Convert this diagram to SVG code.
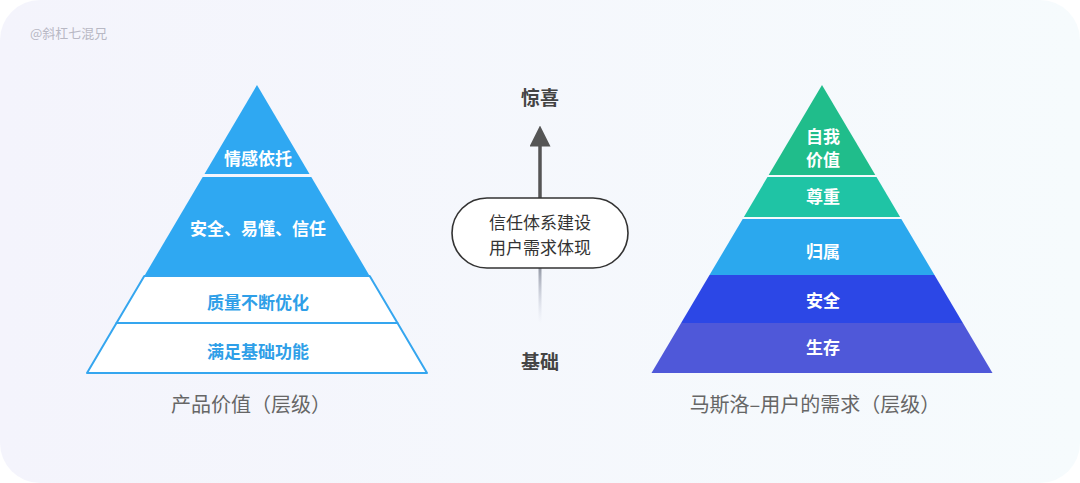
<svg xmlns="http://www.w3.org/2000/svg" width="1080" height="483" viewBox="0 0 1080 483">
  <defs>
    <linearGradient id="bg" x1="0" y1="0" x2="1" y2="0">
      <stop offset="0" stop-color="#f4f4fc"/>
      <stop offset="1" stop-color="#f6fbfd"/>
    </linearGradient>
    <linearGradient id="fade" x1="0" y1="0" x2="0" y2="1">
      <stop offset="0" stop-color="#8a8f9c" stop-opacity="0.9"/>
      <stop offset="1" stop-color="#c8cde0" stop-opacity="0"/>
    </linearGradient>
    <marker id="arrow" markerWidth="6" markerHeight="6" refX="3" refY="3" orient="auto" markerUnits="strokeWidth">
      <path d="M0,0 L6,3 L0,6 z" fill="#555555"/>
    </marker>
    <style>
      text { font-family: "Noto Sans CJK SC", "Noto Sans", sans-serif; }
      .lvl { font-size: 17px; font-weight: bold; fill: #ffffff; text-anchor: middle; }
      .lvlb { font-size: 17px; font-weight: bold; fill: #2f9fe8; text-anchor: middle; }
      .cap { font-size: 20px; fill: #666666; text-anchor: middle; }
      .ctr { font-size: 17px; fill: #333333; text-anchor: middle; }
      .end { font-size: 19px; font-weight: bold; fill: #444444; text-anchor: middle; }
      .wband { fill: #ffffff; stroke: #35a6ef; stroke-width: 2; stroke-linejoin: round; }
    </style>
  </defs>

  <rect x="0" y="0" width="1080" height="483" fill="#ffffff"/>
  <rect x="0" y="0" width="1080" height="483" rx="40" ry="40" fill="url(#bg)"/>

  <text x="30" y="38" font-size="13" fill="#b8b8c4">@斜杠七混兄</text>

  <g id="left-pyramid">
    <g id="l-top">
      <polygon points="257,85 309.5,174 204.5,174" fill="#2fa8f2"/>
      <text class="lvl" x="258" y="165">情感依托</text>
    </g>
    <g id="l-trust">
      <polygon points="202.7,177 311.3,177 369.7,276 144.3,276" fill="#2fa8f2"/>
      <text class="lvl" x="258" y="235">安全、易懂、信任</text>
    </g>
    <g id="l-quality">
      <polygon class="wband" points="144.3,276 369.7,276 397.5,323 116.5,323"/>
      <text class="lvlb" x="258" y="309">质量不断优化</text>
    </g>
    <g id="l-basic">
      <polygon class="wband" points="116.5,323 397.5,323 427,373 87,373"/>
      <text class="lvlb" x="258" y="358">满足基础功能</text>
    </g>
    <text class="cap" x="251" y="412">产品价值（层级）</text>
  </g>

  <g id="connectors">
    <line x1="540" y1="200" x2="540" y2="136" stroke="#555555" stroke-width="3.5" marker-end="url(#arrow)"/>
    <rect x="538.5" y="268" width="3" height="55" fill="url(#fade)"/>
  </g>

  <g id="center">
    <text class="end" x="540" y="105">惊喜</text>
    <g id="pill">
      <rect x="452" y="198" width="176" height="70" rx="35" ry="35" fill="#ffffff" stroke="#333333" stroke-width="1.6"/>
      <text class="ctr" x="540" y="229">信任体系建设</text>
      <text class="ctr" x="540" y="254">用户需求体现</text>
    </g>
    <text class="end" x="540" y="369">基础</text>
  </g>

  <g id="right-pyramid">
    <g id="r-self">
      <polygon points="822,85 875.3,175 768.7,175" fill="#20bd8b"/>
      <text class="lvl" x="823" y="143">自我</text>
      <text class="lvl" x="823" y="166">价值</text>
    </g>
    <g id="r-esteem">
      <polygon points="767.5,177 876.5,177 900.1,217 743.9,217" fill="#1fc4a5"/>
      <text class="lvl" x="823" y="203">尊重</text>
    </g>
    <g id="r-belong">
      <polygon points="742.7,219 901.3,219 934.5,275 709.5,275" fill="#2ba8ee"/>
      <text class="lvl" x="823" y="258">归属</text>
    </g>
    <g id="r-safety">
      <polygon points="709.5,275 934.5,275 962.9,323 681.1,323" fill="#2c47e6"/>
      <text class="lvl" x="823" y="307">安全</text>
    </g>
    <g id="r-survive">
      <polygon points="681.1,323 962.9,323 992.5,373 651.5,373" fill="#4f58d9"/>
      <text class="lvl" x="823" y="354">生存</text>
    </g>
    <text class="cap" x="815" y="412">马斯洛–用户的需求（层级）</text>
  </g>
</svg>
